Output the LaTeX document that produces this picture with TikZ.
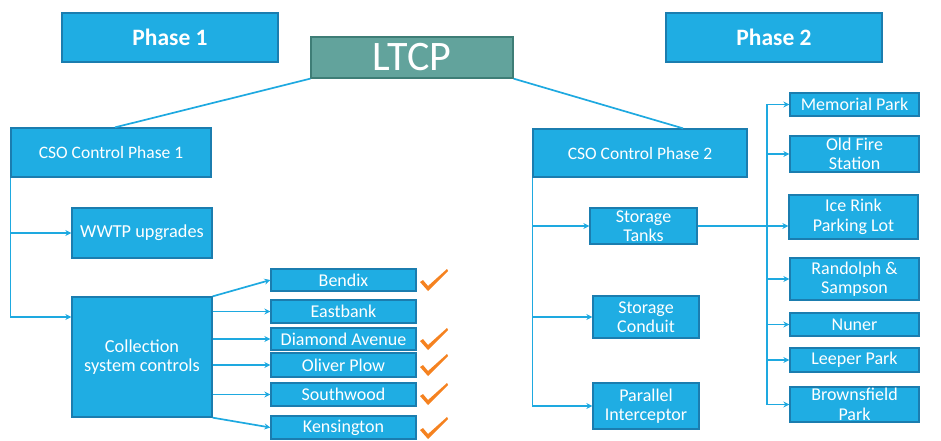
\documentclass[tikz,border=0pt]{standalone}
\usepackage{fontspec}
\setmainfont{Carlito}
\usetikzlibrary{arrows.meta,calc}
\definecolor{boxblue}{HTML}{1FADE3}
\definecolor{boxedge}{HTML}{1B7DAF}
\definecolor{linkblue}{HTML}{1EA9E0}
\definecolor{teal}{HTML}{62A39C}
\definecolor{tealedge}{HTML}{3E7D76}
\definecolor{tickorange}{HTML}{F58220}
\tikzset{
  x=1pt,y=-1pt,
  bx/.style={draw=boxedge,line width=1.3pt,fill=boxblue,text=white,inner sep=0pt,align=center,font=\fontsize{18}{19.5}\selectfont},
  link/.style={draw=linkblue,line width=1.7pt},
  arr/.style={link,-{Stealth[length=6pt,width=6pt]}},
  pics/tick/.style={code={\fill[tickorange] (0,0) -- (3,-2) -- (8,4) -- (27,-13) -- (28,-11) -- (8,9) -- cycle;}}
}
\begin{document}
\begin{tikzpicture}
\useasboundingbox (0,0) rectangle (941,440);
% titles
\node[bx,minimum width=216pt,minimum height=49pt,font=\fontsize{23.5}{26}\selectfont\bfseries] (ph1) at (170,37.5) {Phase 1};
\node[bx,minimum width=216pt,minimum height=49pt,font=\fontsize{23.5}{26}\selectfont\bfseries] (ph2) at (774,37.5) {Phase 2};
\node[bx,draw=tealedge,fill=teal,minimum width=202pt,minimum height=41pt,font=\fontsize{42}{44}\selectfont] (ltcp) at (412,57.5) {LTCP};
% level 1
\node[bx,minimum width=200pt,minimum height=49pt,font=\fontsize{17.5}{20}\selectfont] (cso1) at (111,152.5) {CSO Control Phase 1};
\node[bx,minimum width=214pt,minimum height=48pt,font=\fontsize{17.5}{20}\selectfont] (cso2) at (640,153) {CSO Control Phase 2};
% phase 1
\node[bx,minimum width=140pt,minimum height=50pt,font=\fontsize{18.3}{19.5}\selectfont] (wwtp) at (142,233) {WWTP upgrades};
\node[bx,minimum width=140pt,minimum height=120pt,font=\fontsize{18.3}{19.5}\selectfont] (coll) at (142,357) {Collection\\system controls};
\node[bx,minimum width=145pt,minimum height=22pt] (bendix) at (343.5,280) {Bendix};
\node[bx,minimum width=145pt,minimum height=23pt] (eastbank) at (343.5,311.5) {Eastbank};
\node[bx,minimum width=145pt,minimum height=22pt] (diamond) at (343.5,339) {Diamond Avenue};
\node[bx,minimum width=145pt,minimum height=24pt] (oliver) at (343.5,365) {Oliver Plow};
\node[bx,minimum width=145pt,minimum height=23pt] (southwood) at (343.5,394.5) {Southwood};
\node[bx,minimum width=145pt,minimum height=23pt] (kens) at (343.5,427.5) {Kensington};
% phase 2
\node[bx,minimum width=107pt,minimum height=36pt] (tanks) at (643.5,226) {Storage\\Tanks};
\node[bx,minimum width=106pt,minimum height=42pt] (conduit) at (646,317) {Storage\\Conduit};
\node[bx,minimum width=106pt,minimum height=46pt] (interc) at (646,406) {Parallel\\Interceptor};
\node[bx,minimum width=129pt,minimum height=23pt] (mem) at (854.5,104.5) {Memorial Park};
\node[bx,minimum width=129pt,minimum height=36pt] (fire) at (854.5,154) {Old Fire\\Station};
\node[bx,minimum width=129pt,minimum height=44pt] (ice) at (853.5,217) {Ice Rink\\Parking Lot};
\node[bx,minimum width=129pt,minimum height=42pt] (rand) at (854.5,279) {Randolph \&\\Sampson};
\node[bx,minimum width=129pt,minimum height=23pt] (nuner) at (854.5,324.5) {Nuner};
\node[bx,minimum width=129pt,minimum height=24pt] (leeper) at (854.5,360) {Leeper Park};
\node[bx,minimum width=129pt,minimum height=35pt] (brown) at (854.5,404.5) {Brownsfield\\Park};
% connectors from LTCP
\draw[link] (ltcp.south west) -- ($(cso1.north west)!0.52!(cso1.north east)$);
\draw[link] (ltcp.south east) -- ($(cso2.north west)!0.7!(cso2.north east)$);
% phase 1 trunk
\draw[arr] (cso1.south west) |- (wwtp.west);
\draw[arr] (cso1.south west) |- ($(coll.north west)!0.17!(coll.south west)$);
\draw[arr] (coll.north east) -- (bendix.west);
\draw[arr] (coll.east |- eastbank.west) -- (eastbank.west);
\draw[arr] (coll.east |- diamond.west) -- (diamond.west);
\draw[arr] (coll.east |- oliver.west) -- (oliver.west);
\draw[arr] (coll.east |- southwood.west) -- (southwood.west);
\draw[arr] (coll.south east) -- (kens.west);
% ticks
\pic at (420,282) {tick};
\pic at (420,341) {tick};
\pic at (420,367) {tick};
\pic at (420,396) {tick};
\pic at (420,430) {tick};
% phase 2 trunk
\draw[arr] (cso2.south west) |- (tanks.west);
\draw[arr] (cso2.south west) |- (conduit.west);
\draw[arr] (cso2.south west) |- (interc.west);
\coordinate (bt) at (767,0);
\draw[arr] (tanks.east) -- (tanks.east -| ice.west);
\draw[arr] (tanks.east -| bt) |- (mem.west);
\draw[arr] (tanks.east -| bt) |- (fire.west);
\draw[arr] (tanks.east -| bt) |- (rand.west);
\draw[arr] (tanks.east -| bt) |- (nuner.west);
\draw[arr] (tanks.east -| bt) |- (leeper.west);
\draw[arr] (tanks.east -| bt) |- (brown.west);
\end{tikzpicture}
\end{document}
